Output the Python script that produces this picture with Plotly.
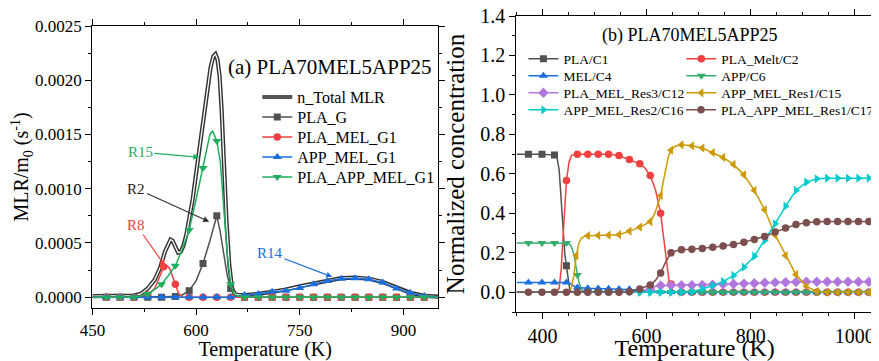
import plotly.graph_objects as go

# ---------------- Panel (a): MLR/m0 vs temperature ----------------
total_T = [450, 470, 490, 510, 520, 530, 540, 548, 555, 560, 563, 566, 570, 574, 578, 582, 586, 590, 595,
           600, 605, 610, 613, 617, 621, 625, 628, 631, 634, 637, 640, 644, 648, 652, 656, 660, 670, 690,
           710, 730, 750, 770, 790, 810, 830, 850, 870, 890, 910, 930, 950]
total_V = [0.00001, 0.00001, 0.00001, 0.000015, 0.00003, 0.00008, 0.00016, 0.00027, 0.00042, 0.0005,
           0.00053, 0.00052, 0.00046, 0.00041, 0.00042, 0.00048, 0.00058, 0.00071, 0.0009, 0.00114,
           0.00137, 0.0016, 0.00176, 0.00195, 0.00212, 0.00222, 0.00224, 0.00219, 0.00204, 0.00172,
           0.00125, 0.0007, 0.0003, 0.00008, 0.00003, 0.00002, 0.00002, 0.00003, 0.00005, 0.00007,
           0.0001, 0.000125, 0.000155, 0.000175, 0.00018, 0.00017, 0.00014, 0.000085, 0.00004,
           0.000012, 0.000005]

plag_T = [450, 470, 490, 510, 530, 550, 570, 580, 590, 600, 610, 620, 625, 630, 635, 640, 645, 650, 655,
          660, 670, 690, 710, 730, 750, 770, 790, 810, 830, 850, 870, 890, 910, 930, 950]
plag_V = [0, 0, 0, 0, 0, 0, 0.000005, 0.00002, 0.00006, 0.00015, 0.00031, 0.00052, 0.00064, 0.00075,
          0.0006, 0.0004, 0.0002, 0.00008, 0.00002, 0, 0, 0, 0, 0, 0, 0, 0, 0, 0, 0, 0, 0, 0, 0, 0]

plamel_T = [450, 470, 490, 510, 520, 530, 540, 545, 550, 553, 555, 558, 562, 566, 570, 575, 580, 590, 610,
            630, 650, 670, 690, 710, 730, 750, 770, 790, 810, 830, 850, 870, 890, 910, 930, 950]
plamel_V = [0, 0, 0, 0, 0.00001, 0.00002, 0.00008, 0.00015, 0.00023, 0.00028, 0.00029, 0.00029, 0.00026,
            0.00019, 0.00012, 0.00003, 0, 0, 0, 0, 0, 0, 0, 0, 0, 0, 0, 0, 0, 0, 0, 0, 0, 0, 0, 0]

appmel_T = [450, 470, 490, 510, 530, 550, 570, 590, 610, 630, 650, 660, 670, 690, 710, 730, 750, 770, 790,
            810, 830, 850, 870, 890, 910, 930, 950]
appmel_V = [0, 0, 0, 0, 0, 0, 0, 0, 0, 0, 0, 0.00001, 0.00002, 0.00003, 0.00005, 0.00006, 0.000085,
            0.00012, 0.00015, 0.00017, 0.000175, 0.000165, 0.000135, 0.00008, 0.00004, 0.00001, 0]

plaappmel_T = [450, 470, 490, 510, 520, 530, 540, 550, 560, 570, 580, 590, 600, 610, 615, 620, 624, 627,
               630, 635, 640, 645, 650, 655, 660, 670, 690, 710, 730, 750, 770, 790, 810, 830, 850, 870,
               890, 910, 930, 950]
plaappmel_V = [0, 0, 0, 0, 0.00001, 0.00003, 0.00007, 0.00012, 0.0002, 0.00029, 0.00044, 0.00062, 0.0009,
               0.00119, 0.00135, 0.0015, 0.00153, 0.00149, 0.00144, 0.00125, 0.0008, 0.0004, 0.00012,
               0.00003, 0.00001, 0, 0, 0, 0, 0, 0, 0, 0, 0, 0, 0, 0, 0, 0, 0]

markers_a = [470, 490, 510, 530, 550, 570, 590, 610, 630, 650, 670, 690, 710, 730, 750, 770, 790, 810,
             830, 850, 870, 890, 910, 930]
markers_a_red = [470, 490, 510, 530, 553, 570, 590, 610, 630, 650, 670, 690, 710, 730, 750, 770, 790, 810,
                 830, 850, 870, 890, 910, 930]

ticks_a_x = [450, 600, 750, 900]
ticks_a_y = [0.0, 0.0005, 0.0010, 0.0015, 0.0020, 0.0025]

# ---------------- Panel (b): normalized concentration ----------------
c1_T = [350, 373, 399, 423, 428, 432, 436, 440, 443, 446, 449, 452, 456, 470, 1035]
c1_V = [0.70, 0.70, 0.70, 0.695, 0.68, 0.62, 0.45, 0.28, 0.19, 0.135, 0.07, 0.02, 0.0, 0.0, 0.0]
c1_M = [373, 399, 423, 446]

c2_T = [350, 400, 425, 432, 436, 440, 443, 446, 451, 456, 467, 487, 507, 527, 547, 567, 587, 597, 607,
        617, 627, 634, 639, 643, 647, 650, 655, 667, 687, 707, 727, 747, 767, 787, 807, 827, 847, 867,
        887, 907, 927, 947, 967, 987, 1007, 1027, 1035]
c2_V = [0, 0, 0, 0.02, 0.12, 0.3, 0.45, 0.566, 0.66, 0.695, 0.70, 0.70, 0.70, 0.70, 0.693, 0.673, 0.651,
        0.63, 0.592, 0.52, 0.40, 0.25, 0.13, 0.06, 0.042, 0.01, 0, 0, 0, 0, 0, 0, 0, 0, 0, 0, 0, 0, 0, 0,
        0, 0, 0, 0, 0, 0, 0]
c2_M = [446, 467, 487, 507, 527, 547, 567, 587, 607, 627, 647, 667, 687, 707, 727, 747, 767, 787, 807,
        827, 847, 867, 887, 907, 927, 947, 967, 987, 1007, 1027]

c4_T = [350, 373, 399, 423, 446, 452, 458, 463, 467, 475, 487, 507, 527, 547, 567, 587, 607, 627, 647,
        667, 687, 707, 727, 747, 767, 787, 807, 827, 847, 867, 887, 907, 927, 947, 967, 987, 1007, 1027, 1035]
c4_V = [0.05, 0.05, 0.05, 0.05, 0.05, 0.046, 0.035, 0.027, 0.024, 0.021, 0.02, 0.019, 0.018, 0.017,
        0.015, 0.012, 0.007, 0.003, 0.001, 0, 0, 0, 0, 0, 0, 0, 0, 0, 0, 0, 0, 0, 0, 0, 0, 0, 0, 0, 0]
c4_M = [373, 399, 423, 446, 467, 487, 507, 527, 547, 567, 587, 607, 627, 647, 667, 687, 707, 727, 747,
        767, 787, 807, 827, 847, 867, 887, 907, 927, 947, 967, 987, 1007, 1027]

c6_T = [350, 373, 399, 423, 446, 450, 455, 461, 467, 472, 477, 487, 507, 527, 547, 567, 587, 607, 627,
        647, 667, 687, 707, 727, 747, 767, 787, 807, 827, 847, 867, 887, 907, 927, 947, 967, 987, 1007,
        1027, 1035]
c6_V = [0.25, 0.25, 0.25, 0.25, 0.25, 0.248, 0.235, 0.186, 0.088, 0.034, 0.008, 0, 0, 0, 0, 0, 0, 0, 0,
        0, 0, 0, 0, 0, 0, 0, 0, 0, 0, 0, 0, 0, 0, 0, 0, 0, 0, 0, 0, 0]
c6_M = [373, 399, 423, 446, 467, 487, 507, 527, 547, 567, 587, 607, 627, 647, 667, 687, 707, 727, 747,
        767, 787, 807, 827, 847, 867, 887, 907, 927, 947, 967, 987, 1007, 1027]

c12_T = [350, 590, 600, 607, 615, 627, 647, 667, 687, 707, 727, 747, 767, 787, 807, 827, 847, 867, 887,
         907, 927, 947, 967, 987, 1007, 1027, 1035]
c12_V = [0, 0, 0.008, 0.015, 0.028, 0.034, 0.035, 0.036, 0.036, 0.037, 0.038, 0.04, 0.042, 0.044, 0.046,
         0.048, 0.05, 0.051, 0.052, 0.053, 0.053, 0.053, 0.053, 0.053, 0.053, 0.053, 0.053]
c12_M = [607, 627, 647, 667, 687, 707, 727, 747, 767, 787, 807, 827, 847, 867, 887, 907, 927, 947, 967,
         987, 1007, 1027]

c15_T = [350, 450, 455, 460, 465, 470, 475, 480, 487, 507, 527, 547, 567, 587, 607, 612, 617, 622, 627,
         632, 637, 642, 647, 655, 667, 687, 707, 727, 747, 767, 787, 807, 827, 847, 867, 887, 907, 927,
         947, 967, 987, 1007, 1027, 1035]
c15_V = [0, 0, 0.02, 0.08, 0.186, 0.25, 0.275, 0.283, 0.287, 0.288, 0.289, 0.292, 0.31, 0.33, 0.358, 0.38,
         0.41, 0.45, 0.49, 0.56, 0.63, 0.69, 0.72, 0.74, 0.747, 0.742, 0.731, 0.708, 0.683, 0.648, 0.595,
         0.516, 0.418, 0.29, 0.186, 0.09, 0.03, 0.004, 0, 0, 0, 0, 0, 0]
c15_M = [465, 487, 507, 527, 547, 567, 587, 607, 627, 647, 667, 687, 707, 727, 747, 767, 787, 807, 827,
         847, 867, 887, 907, 927, 947, 967, 987, 1007, 1027]

c16_T = [350, 587, 607, 627, 647, 667, 687, 707, 727, 747, 767, 787, 807, 827, 847, 867, 887, 907, 927,
         947, 967, 987, 1007, 1027, 1035]
c16_V = [0, 0, 0, 0, 0, 0, 0.003, 0.017, 0.034, 0.054, 0.085, 0.127, 0.183, 0.262, 0.347, 0.436, 0.516,
         0.558, 0.575, 0.578, 0.578, 0.578, 0.578, 0.578, 0.578]
c16_M = [587, 607, 627, 647, 667, 687, 707, 727, 747, 767, 787, 807, 827, 847, 867, 887, 907, 927, 947,
         967, 987, 1007, 1027]

c17_T = [350, 373, 399, 423, 446, 467, 487, 507, 527, 547, 560, 567, 577, 587, 597, 607, 617, 627, 637,
         647, 657, 667, 687, 707, 727, 747, 767, 787, 807, 827, 847, 867, 887, 907, 927, 947, 967, 987,
         1007, 1027, 1035]
c17_V = [0, 0, 0, 0, 0, 0, 0, 0, 0, 0, 0, 0.003, 0.008, 0.017, 0.025, 0.037, 0.06, 0.098, 0.155, 0.2,
         0.21, 0.215, 0.218, 0.222, 0.228, 0.234, 0.242, 0.254, 0.268, 0.283, 0.305, 0.326, 0.343, 0.352,
         0.357, 0.358, 0.358, 0.358, 0.358, 0.358, 0.358]
c17_M = [373, 399, 423, 446, 467, 487, 507, 527, 547, 567, 587, 607, 627, 647, 667, 687, 707, 727, 747,
         767, 787, 807, 827, 847, 867, 887, 907, 927, 947, 967, 987, 1007, 1027]

ticks_b_x = [400, 600, 800, 1000]
ticks_b_y = [0.0, 0.2, 0.4, 0.6, 0.8, 1.0, 1.2, 1.4]

FONT = "Liberation Serif, Times New Roman, serif"
# The page body adds an 8 px margin, so the figure is 8 px smaller and all
# layout positions below are given in screen pixels and converted here.
OFF = 8
W, H = 879 - OFF, 361 - OFF


def px_x(p):
    return (p - OFF) / W


def px_y(p):
    return 1 - (p - OFF) / H


fig = go.Figure()
legend_layout = {}
legend_count = [0]


def new_legend(x_screen, y_screen, size):
    legend_count[0] += 1
    key = "legend" if legend_count[0] == 1 else "legend%d" % legend_count[0]
    legend_layout[key] = dict(x=px_x(x_screen), y=px_y(y_screen), xanchor="left", yanchor="middle",
                              bgcolor="rgba(0,0,0,0)", borderwidth=0, itemwidth=30, tracegroupgap=0,
                              font=dict(family=FONT, size=size, color="black"))
    return key


def pick(T, V, M):
    return [V[T.index(t)] for t in M]


def add_series(T, V, M, color, symbol, msize, xa, ya, name, leg_xy, lsize, lw=1.5):
    fig.add_trace(go.Scatter(x=T, y=V, mode="lines", line=dict(color=color, width=lw),
                             xaxis=xa, yaxis=ya, showlegend=False, hoverinfo="skip"))
    fig.add_trace(go.Scatter(x=M, y=pick(T, V, M), mode="markers",
                             marker=dict(color=color, symbol=symbol, size=msize),
                             xaxis=xa, yaxis=ya, showlegend=False, hoverinfo="skip"))
    key = new_legend(leg_xy[0], leg_xy[1], lsize)
    fig.add_trace(go.Scatter(x=[None], y=[None], mode="lines+markers", name=name,
                             line=dict(color=color, width=lw),
                             marker=dict(color=color, symbol=symbol, size=msize),
                             xaxis=xa, yaxis=ya, legend=key))


GREEN_A = "#1FAE5E"
# Panel (a)
fig.add_trace(go.Scatter(x=total_T, y=total_V, mode="lines", line=dict(color="#333333", width=4.2),
                         xaxis="x", yaxis="y", showlegend=False, hoverinfo="skip"))
fig.add_trace(go.Scatter(x=total_T, y=total_V, mode="lines", line=dict(color="white", width=1.3),
                         xaxis="x", yaxis="y", showlegend=False, hoverinfo="skip"))
k0 = new_legend(259, 97, 16)
fig.add_trace(go.Scatter(x=[None], y=[None], mode="lines", name="n_Total MLR",
                         line=dict(color="#555555", width=4), xaxis="x", yaxis="y", legend=k0))
LA_X = 259
add_series(plag_T, plag_V, markers_a, "#515151", "square", 7, "x", "y", "PLA_G", (LA_X, 117), 16)
add_series(plamel_T, plamel_V, markers_a_red, "#F14040", "circle", 7.5, "x", "y", "PLA_MEL_G1",
           (LA_X, 137), 16)
add_series(appmel_T, appmel_V, markers_a, "#1A6FDF", "triangle-up", 8, "x", "y", "APP_MEL_G1",
           (LA_X, 157), 16)
add_series(plaappmel_T, plaappmel_V, markers_a, GREEN_A, "triangle-down", 8, "x", "y",
           "PLA_APP_MEL_G1", (LA_X, 177), 16)

# Panel (b)
C1X, C2X = 527, 686
LB = 13.5
add_series(c1_T, c1_V, c1_M, "#515151", "square", 7, "x2", "y2", "PLA/C1", (C1X, 59), LB)
add_series(c2_T, c2_V, c2_M, "#F14040", "circle", 7.5, "x2", "y2", "PLA_Melt/C2", (C2X, 59), LB)
add_series(c4_T, c4_V, c4_M, "#1A6FDF", "triangle-up", 8, "x2", "y2", "MEL/C4", (C1X, 76), LB)
add_series(c6_T, c6_V, c6_M, "#37AD6B", "triangle-down", 8, "x2", "y2", "APP/C6", (C2X, 76), LB)
add_series(c12_T, c12_V, c12_M, "#B177DE", "diamond", 8, "x2", "y2", "PLA_MEL_Res3/C12", (C1X, 93), LB)
add_series(c15_T, c15_V, c15_M, "#CC9900", "triangle-left", 8, "x2", "y2", "APP_MEL_Res1/C15",
           (C2X, 93), LB)
add_series(c16_T, c16_V, c16_M, "#00CBCC", "triangle-right", 8, "x2", "y2", "APP_MEL_Res2/C16",
           (C1X, 110), LB)
add_series(c17_T, c17_V, c17_M, "#7D4E4E", "circle", 7.5, "x2", "y2", "PLA_APP_MEL_Res1/C17",
           (C2X, 110), LB)

axis_common = dict(showline=True, linecolor="black", linewidth=1.3, ticks="outside", ticklen=6,
                   tickwidth=1.2, tickcolor="black", showgrid=False, zeroline=False, automargin=False,
                   tickmode="array", ticklabeloverflow="allow")

fig.update_layout(
    width=W, height=H, margin=dict(l=0, r=0, t=0, b=0),
    paper_bgcolor="white", plot_bgcolor="white",
    font=dict(family=FONT, color="black"),
    showlegend=True,
    xaxis=dict(axis_common, domain=[px_x(93), px_x(441)], range=[450, 950], tickvals=ticks_a_x,
               mirror="ticks", anchor="y",
               minor=dict(ticks="outside", ticklen=3, dtick=75, tick0=450, tickcolor="black"),
               tickfont=dict(family=FONT, size=17, color="black"),
               title=dict(text="Temperature (K)", font=dict(family=FONT, size=20, color="black"),
                          standoff=5)),
    yaxis=dict(axis_common, domain=[px_y(308), px_y(26)], range=[-0.0001, 0.0025], tickvals=ticks_a_y,
               tickformat=".4f", mirror="ticks", anchor="x",
               minor=dict(ticks="outside", ticklen=3, dtick=0.00025, tick0=0, tickcolor="black"),
               tickfont=dict(family=FONT, size=17, color="black"),
               title=dict(text="MLR/m<sub>0</sub> (s<sup>-1</sup>)",
                          font=dict(family=FONT, size=20, color="black"), standoff=5)),
    xaxis2=dict(axis_common, domain=[px_x(520), 1.0], range=[350, 1035], tickvals=ticks_b_x,
                mirror="ticks", anchor="y2",
                minor=dict(ticks="outside", ticklen=3, dtick=50, tick0=400, tickcolor="black"),
                tickfont=dict(family=FONT, size=20, color="black"),
                title=dict(text="Temperature (K)", font=dict(family=FONT, size=24, color="black"),
                           standoff=5)),
    yaxis2=dict(axis_common, domain=[px_y(312), px_y(16)], range=[-0.1, 1.4], tickvals=ticks_b_y,
                tickformat=".1f", mirror=False, anchor="x2",
                minor=dict(ticks="outside", ticklen=3, dtick=0.1, tick0=0, tickcolor="black"),
                tickfont=dict(family=FONT, size=20, color="black"),
                title=dict(text="Normalized concentration", font=dict(family=FONT, size=25, color="black"),
                           standoff=8)),
    annotations=[
        dict(text="(a) PLA70MEL5APP25", x=px_x(332.5), y=px_y(67), xref="paper", yref="paper",
             xanchor="center", yanchor="middle", showarrow=False,
             font=dict(family=FONT, size=21, color="black")),
        dict(text="(b) PLA70MEL5APP25", x=px_x(695), y=px_y(35), xref="paper", yref="paper",
             xanchor="center", yanchor="middle", showarrow=False,
             font=dict(family=FONT, size=18, color="black")),
        dict(text="R15", x=604.8, y=0.00129, ax=519.4, ay=0.001336, xref="x", yref="y", axref="x",
             ayref="y", showarrow=True, arrowhead=2, arrowsize=1, arrowwidth=1.2, arrowcolor=GREEN_A,
             font=dict(family=FONT, size=15, color=GREEN_A)),
        dict(text="R2", x=619, y=0.000696, ax=513.7, ay=0.001, xref="x", yref="y", axref="x",
             ayref="y", showarrow=True, arrowhead=2, arrowsize=1, arrowwidth=1.2, arrowcolor="#333333",
             font=dict(family=FONT, size=15, color="#222222")),
        dict(text="R8", x=555, y=0.000288, ax=513.7, ay=0.000665, xref="x", yref="y", axref="x",
             ayref="y", showarrow=True, arrowhead=2, arrowsize=1, arrowwidth=1.2, arrowcolor="#F14040",
             font=dict(family=FONT, size=15, color="#F14040")),
        dict(text="R14", x=797, y=0.000187, ax=706.8, ay=0.000404, xref="x", yref="y", axref="x",
             ayref="y", showarrow=True, arrowhead=2, arrowsize=1, arrowwidth=1.2, arrowcolor="#1A6FDF",
             font=dict(family=FONT, size=15, color="#1A6FDF")),
    ],
    **legend_layout,
)

fig.write_html("out.html")
